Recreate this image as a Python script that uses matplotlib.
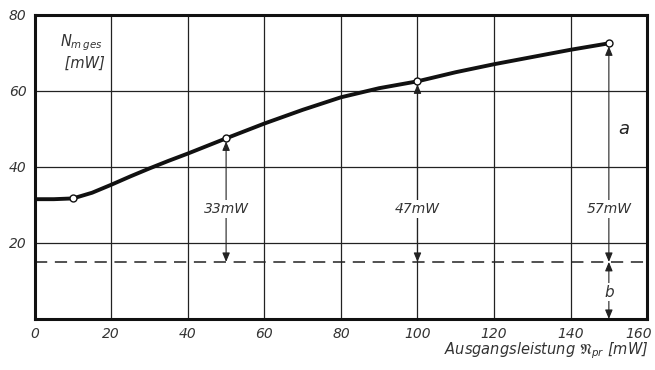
import matplotlib.pyplot as plt
import matplotlib.transforms as mtransforms

# curve
curve_x = [0, 5, 10, 15, 20, 25, 30, 35, 40, 50, 60, 70, 80, 90, 100, 110, 120, 130, 140, 150]
curve_y = [31.5, 31.5, 31.7, 33.2, 35.3, 37.5, 39.6, 41.6, 43.5, 47.5, 51.4, 55.0, 58.3, 60.7,
           62.5, 64.9, 67.0, 68.9, 70.8, 72.5]

# measured points (open circles)
point_x = [10, 50, 100, 150]
point_y = [31.7, 47.5, 62.5, 72.5]

# difference arrows above the dashed base level
base_level = 15
arrow_x = [50, 100, 150]
arrow_top = [47.5, 62.5, 72.5]
arrow_labels = ['33mW', '47mW', '57mW']

x_ticks = [0, 20, 40, 60, 80, 100, 120, 140, 160]
y_ticks = [20, 40, 60, 80]

fig = plt.figure(figsize=(6.55, 3.70), dpi=100)
ax = fig.add_axes([0.053, 0.138, 0.935, 0.822])

ax.set_xlim(0, 160)
ax.set_ylim(0, 80)
ax.set_xticks(x_ticks)
ax.set_yticks(y_ticks)
ax.grid(True, color='#222222', linewidth=0.9)
ax.tick_params(length=0, labelsize=10, colors='#333333', pad=6)
for lbl in ax.get_xticklabels() + ax.get_yticklabels():
    lbl.set_fontstyle('italic')
# pull the last x label in a bit so it stays on the canvas
last = ax.get_xticklabels()[-1]
last.set_transform(last.get_transform() + mtransforms.ScaledTranslation(-8 / 100, 0, fig.dpi_scale_trans))
for sp in ax.spines.values():
    sp.set_linewidth(2.2)
    sp.set_color('#111111')

# dashed base line
ax.axhline(base_level, color='#222222', linewidth=1.1, dashes=(8, 5))

# main curve
ax.plot(curve_x, curve_y, color='#111111', linewidth=2.8, solid_capstyle='round',
        solid_joinstyle='round', zorder=3)
ax.plot(point_x, point_y, 'o', markersize=5, markerfacecolor='white',
        markeredgecolor='#111111', markeredgewidth=1.0, zorder=4)

# double arrows with labels
for xa, top, txt in zip(arrow_x, arrow_top, arrow_labels):
    ax.annotate('', xy=(xa, top - 0.8), xytext=(xa, base_level),
                arrowprops=dict(arrowstyle='<|-|>,head_width=0.25,head_length=0.6', color='#222222',
                                lw=0.8, mutation_scale=9, shrinkA=0, shrinkB=0), zorder=2)
    ax.text(xa, 29, txt, ha='center', va='center', fontsize=10, style='italic',
            color='#333333', bbox=dict(facecolor='white', edgecolor='none', pad=1.5), zorder=3)

ax.annotate('', xy=(150, 0), xytext=(150, base_level),
            arrowprops=dict(arrowstyle='<|-|>,head_width=0.25,head_length=0.6', color='#222222',
                            lw=0.8, mutation_scale=9, shrinkA=0, shrinkB=0), zorder=2)
ax.text(150, 7, 'b', ha='center', va='center', fontsize=11, style='italic',
        color='#333333', bbox=dict(facecolor='white', edgecolor='none', pad=1), zorder=3)
ax.text(154, 50, 'a', ha='center', va='center', fontsize=13, style='italic', color='#222222')

ax.text(6.5, 75.5, '$N_{m\\,ges}$\n [mW]', ha='left', va='top', fontsize=10.5, style='italic',
        color='#333333', linespacing=1.3)

fig.text(0.99, 0.025, r'Ausgangsleistung $\mathfrak{N}_{pr}$ [mW]', ha='right', va='bottom',
         fontsize=10.5, style='italic', color='#333333')

fig.savefig('out.png', dpi=100, facecolor='white')
